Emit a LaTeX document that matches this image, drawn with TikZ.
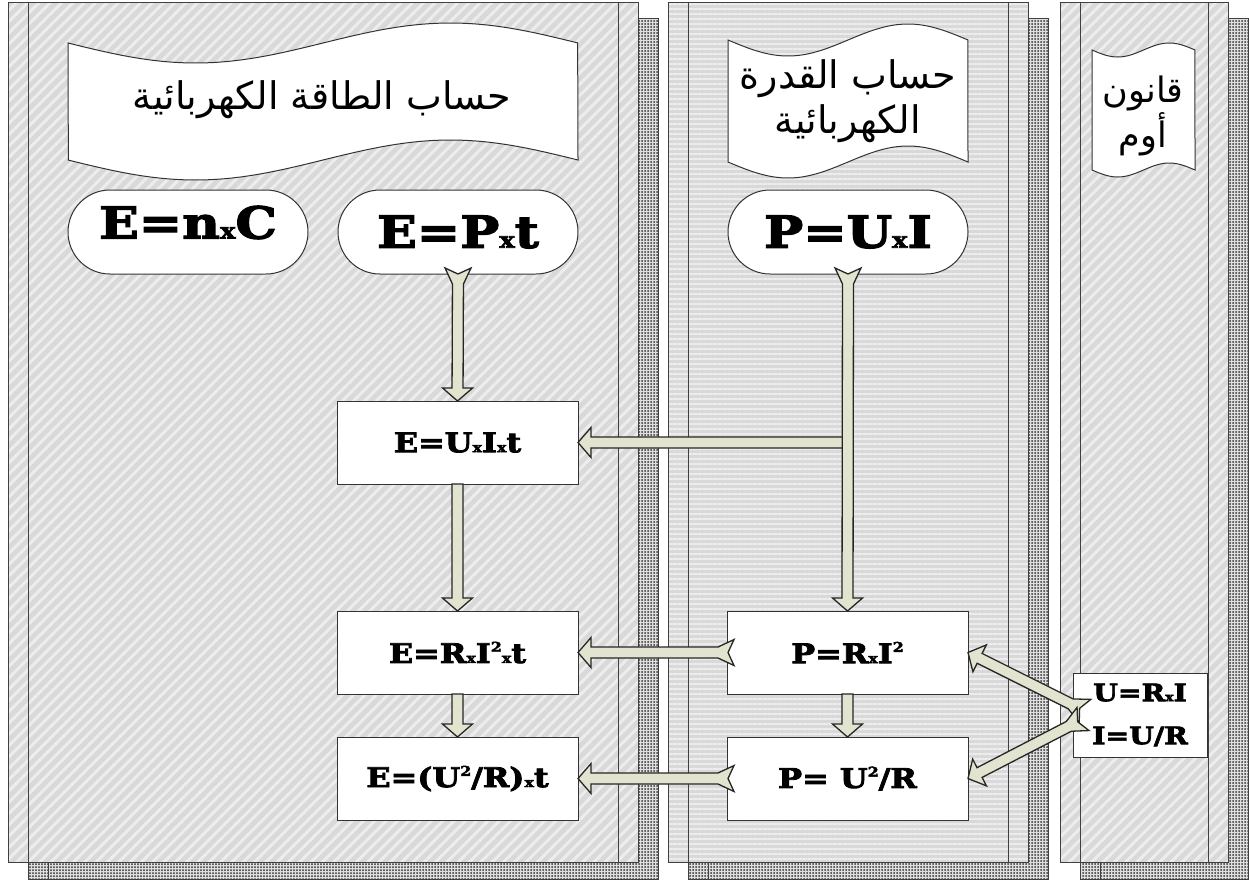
\documentclass[tikz,border=0pt]{standalone}
\usepackage{fontspec}
\usepackage{graphicx}
\usetikzlibrary{calc,patterns.meta}
\TeXXeTstate=1
\newfontfamily\arabicfont[Script=Arabic]{DejaVu Sans}
\newfontfamily\eqfont{DejaVu Serif}[FakeStretch=1.18,BoldFeatures={FakeBold=3}]
\definecolor{arrowfill}{HTML}{E2E4D0}
\newcommand\sx{\scalebox{0.5}{x}}
\newcommand\sq{\raisebox{0.8ex}{\scalebox{0.5}{2}}}
\newcommand\lane[3]{%
  \fill[shadowst] (#1+20,18) rectangle (#2+20,879);
  \draw[lanelinest] (#1+20,18) rectangle (#2+20,879);
  \draw[lanelinest] (#1+40,862) -- (#1+40,879);
  \fill[#3] (#1,2) rectangle (#2,862);
  \draw[lanelinest] (#1,2) rectangle (#2,862);
  \draw[lanelinest] (#1+20,2) -- (#1+20,862) (#2-20,2) -- (#2-20,862);
}
\newcommand\banner[5]{%
  \filldraw[bannerst] plot[samples=60,domain=0:1,variable=\t] ({#1+#2*\t},{#3+#5*sin(360*\t)})
    -- plot[samples=60,domain=1:0,variable=\t] ({#1+#2*\t},{#4+#5*sin(360*\t)}) -- cycle;
}
\newcommand\fatT[2]{%
  \coordinate (fS) at #1; \coordinate (fE) at #2;
  \coordinate (fH) at ($(fE)!13pt!(fS)$);
  \coordinate (fJ) at ($(fS)!16pt!(fE)$);
  \coordinate (fN) at ($(fS)!6pt!(fE)$);
  \filldraw[fatst] (fE) -- ($(fH)!15pt!90:(fE)$) -- ($(fH)!5.5pt!90:(fE)$)
    -- ($(fJ)!5.5pt!90:(fE)$) -- ($(fS)!13pt!90:(fE)$) -- (fN)
    -- ($(fS)!13pt!-90:(fE)$) -- ($(fJ)!5.5pt!-90:(fE)$)
    -- ($(fH)!5.5pt!-90:(fE)$) -- ($(fH)!15pt!-90:(fE)$) -- cycle;
}
\newcommand\fatN[2]{%
  \coordinate (fS) at #1; \coordinate (fE) at #2;
  \coordinate (fH) at ($(fE)!13pt!(fS)$);
  \filldraw[fatst] (fE) -- ($(fH)!15pt!90:(fE)$) -- ($(fH)!5.5pt!90:(fE)$)
    -- ($(fS)!5.5pt!90:(fE)$) -- ($(fS)!5.5pt!-90:(fE)$)
    -- ($(fH)!5.5pt!-90:(fE)$) -- ($(fH)!15pt!-90:(fE)$) -- cycle;
}
\begin{document}
\begin{tikzpicture}[x=1pt,y=-1pt,
  shadowst/.style={fill=black!12,
    postaction={pattern={Dots[distance=3pt,radius=1pt]}, pattern color=black!80}},
  lanelinest/.style={draw=black!75, line width=1pt},
  laneA/.style={fill=black!15, postaction={pattern={Lines[angle=45,distance=8pt,line width=3pt]}, pattern color=black!7}},
  laneB/.style={fill=black!15, postaction={pattern={Lines[angle=0,distance=5pt,line width=2pt]}, pattern color=black!7}},
  bannerst/.style={draw=black!80, line width=1pt, fill=white},
  bantext/.style={inner sep=0pt, align=center, font=\arabicfont\fontsize{38}{45}\selectfont},
  oval/.style={draw=black!80, line width=1pt, fill=white, rounded corners=42pt,
    minimum width=240pt, minimum height=84pt, inner sep=0pt, outer sep=0pt,
    font=\eqfont\bfseries\fontsize{44}{48}\selectfont},
  fbox/.style={draw=black!80, line width=1pt, fill=white, minimum width=241pt,
    minimum height=83pt, inner sep=0pt, outer sep=0pt,
    font=\eqfont\bfseries\fontsize{27}{30}\selectfont},
  fatst/.style={draw=black!85, line width=1.3pt, fill=arrowfill, line join=miter}]
\useasboundingbox (0,0) rectangle (1249,879);
% lanes
\lane{8}{638}{laneA}
\lane{668}{1028}{laneB}
\lane{1060}{1228}{laneA}
% banners
\banner{68}{510}{43}{160}{20}
\banner{728}{240}{40}{162}{16}
\banner{1092}{103}{50}{170}{7}
\node[bantext] (t1) at (322,100) {\beginR حساب الطاقة الكهربائية\endR};
\node[bantext] (t2) at (848,101) {\beginR حساب القدرة\endR\\\beginR الكهربائية\endR};
\node[bantext, font=\arabicfont\fontsize{35}{40}\selectfont] (t3) at (1143,116) {\beginR قانون\endR\\\beginR أوم\endR};
% ovals
\node[oval, text height=33pt, text depth=20pt] (enc) at (188,232) {E=n\sx C};
\node[oval] (ept) at (458,232) {E=P\sx t};
\node[oval] (put) at (848,232) {P=U\sx I};
% boxes
\node[fbox] (e1) at (457.5,442.5) {E=U\sx I\sx t};
\node[fbox] (e2) at (457.5,652.5) {E=R\sx I\sq\sx t};
\node[fbox] (e3) at (457.5,778.5) {E=(U\sq/R)\sx t};
\node[fbox] (p2) at (847.5,652.5) {P=R\sx I\sq};
\node[fbox] (p3) at (847.5,778.5) {P= U\sq/R};
\node[fbox, minimum width=134pt, minimum height=84pt, align=center,
  font=\eqfont\bfseries\fontsize{24}{43}\selectfont] (ohm) at (1140,715) {U=R\sx I\\I=U/R};
% arrows
\coordinate (br) at (put.south |- e1.east);
\fatN{(br)}{(e1.east)}
\fatT{($(ept.south)+(0,-6)$)}{(e1.north)}
\fatT{($(put.south)+(0,-6)$)}{(p2.north)}
\fatN{(e1.south)}{(e2.north)}
\fatN{(e2.south)}{(e3.north)}
\fatN{(p2.south)}{(p3.north)}
\fatT{($(p2.west)+(7,0)$)}{(e2.east)}
\fatT{($(p3.west)+(7,0)$)}{(e3.east)}
\coordinate (oh1) at ($(ohm.west)+(12,-4)$);
\coordinate (oh2) at ($(ohm.west)+(10,4)$);
\fatT{(oh1)}{(p2.east)}
\fatT{(oh2)}{(p3.east)}
\end{tikzpicture}
\end{document}
